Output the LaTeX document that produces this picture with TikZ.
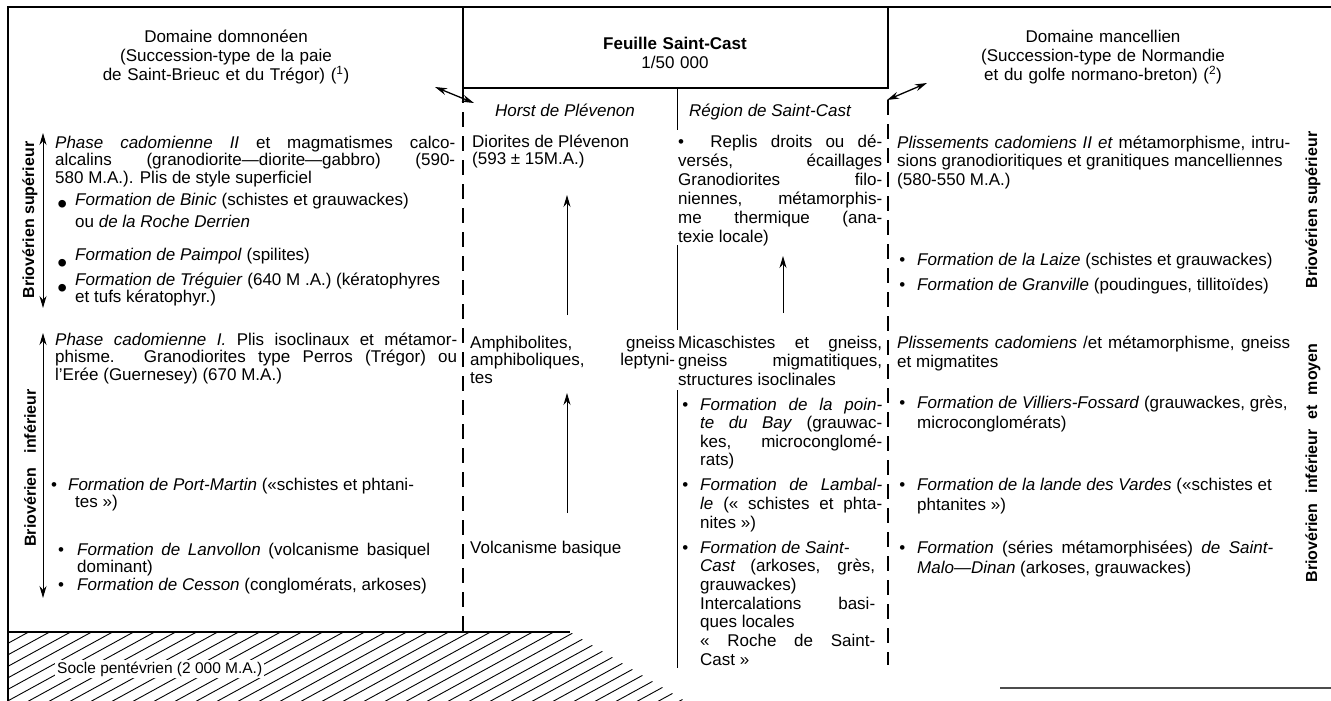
\documentclass[tikz,border=0pt]{standalone}
\usepackage{fontspec}
\setmainfont{Liberation Sans}
\usetikzlibrary{arrows.meta}

\newcommand\bodyfont{\fontsize{17}{17.5}\selectfont}
\newcommand\bigdot[1]{\smash{\raisebox{#1}{\fontsize{28}{28}\selectfont•}}}

\tikzset{
  txt/.style={anchor=base west,inner sep=0pt,text width=#1,align=justify,font=\bodyfont},
  head/.style={anchor=base,inner sep=0pt,text width=420pt,align=center,font=\fontsize{17}{19}\selectfont},
  side/.style={rotate=90,inner sep=0pt,font=\fontsize{16}{16}\selectfont\bfseries},
  limit/.style={line width=1.3pt,dash pattern=on 15pt off 9pt},
}

\begin{document}
\begin{tikzpicture}[x=1pt,y=-1pt,>={Stealth[length=12pt,width=7pt]}]
\useasboundingbox (0,0) rectangle (1331,701);

% frame and columns
\draw[line width=2.5pt] (8,701) -- (8,7) -- (1331,7);
\draw[line width=1.3pt] (463,7) -- (463,88) -- (888,88) -- (888,7);
\draw[limit] (463,88) -- (463,632);
\draw[limit] (888,100) -- (888,665);
\draw (677,88) -- (677,130);
\draw (677,245) -- (677,330);
\draw (677,390) -- (677,668);
\draw[line width=2pt,black!70] (1000,688) -- (1331,688);

% socle
\begin{scope}
\clip (8,632) -- (570,632) -- (685,701) -- (8,701) -- cycle;
\foreach \i in {-300,-279,...,700}
  \draw[line width=0.9pt] (\i,720) -- ++(230,-126);
\end{scope}
\draw[line width=1.2pt] (8,632) -- (570,632);
\node[anchor=base west,fill=white,inner sep=2pt,font=\fontsize{15.5}{15.5}\selectfont] (socle) at (55,673) {Socle pentévrien (2 000 M.A.)};

% headings
\node[head] (domn) at (226,43) {Domaine domnonéen\\(Succession-type de la paie\\de Saint-Brieuc et du Trégor) (\textsuperscript{1})};
\node[head] (manc) at (1103,43) {Domaine mancellien\\(Succession-type de Normandie\\et du golfe normano-breton) (\textsuperscript{2})};
\node[head] (sheet) at (675,50) {\textbf{Feuille Saint-Cast}\\1/50 000};
\node[anchor=base,inner sep=0pt,font=\bodyfont\itshape] (horst) at (565,117) {Horst de Plévenon};
\node[anchor=base west,inner sep=0pt,font=\bodyfont\itshape] (region) at (689,117) {Région de Saint-Cast};

% domnoneen
\node[txt=400pt] (ph2) at (55,148) {\textit{Phase cadomienne II} et magmatismes calco-\linebreak alcalins (granodiorite—diorite—gabbro) (590-\linebreak 580 M.A.). Plis de style superficiel};
\node[txt=380pt] (binic) at (75,205) {\llap{\bigdot{-8pt}\hspace{8pt}}\textit{Formation de Binic} (schistes et grauwackes)\\[4.5pt]ou \textit{de la Roche Derrien}};
\node[txt=380pt] (paim) at (75,260) {\llap{\bigdot{-12pt}\hspace{8pt}}\textit{Formation de Paimpol} (spilites)};
\node[txt=380pt] (treg) at (75,285) {\llap{\bigdot{-12pt}\hspace{8pt}}\textit{Formation de Tréguier} (640 M .A.) (kératophyres\\et tufs kératophyr.)};
\node[txt=402pt] (ph1) at (55,345) {\textit{Phase cadomienne I.} Plis isoclinaux et métamor-\linebreak phisme. Granodiorites type Perros (Trégor) ou\linebreak l'Erée (Guernesey) (670 M.A.)};
\node[txt=380pt] (port) at (51,490) {•\hspace{11pt}\textit{Formation de Port-Martin} («schistes et phtani-\\\hspace*{24pt}tes »)};
\node[txt=353pt] (lanv) at (77,555) {\llap{•\hspace{13pt}}\textit{Formation de Lanvollon} (volcanisme basiquel\linebreak dominant)};
\node[txt=353pt] (cess) at (77,590) {\llap{•\hspace{13pt}}\textit{Formation de Cesson} (conglomérats, arkoses)};

% horst
\node[txt=200pt] (dior) at (472,147) {Diorites de Plévenon\\(593 ± 15M.A.)};
\node[txt=205pt] (amph) at (470,348) {Amphibolites, gneiss\linebreak amphiboliques, leptyni-\linebreak tes};
\node[txt=200pt] (volc) at (470,553) {Volcanisme basique};

% region de Saint-Cast
\node[txt=204pt,font=\fontsize{17}{19}\selectfont] (replis) at (678,147) {•\ \ Replis droits ou dé-\linebreak versés, écaillages\linebreak Granodiorites filo-\linebreak niennes, métamorphis-\linebreak me thermique (ana-\linebreak texie locale)};
\node[txt=204pt,font=\fontsize{17}{18.5}\selectfont] (mica) at (678,348) {Micaschistes et gneiss,\linebreak gneiss migmatitiques,\linebreak structures isoclinales};
\node[txt=182pt,font=\fontsize{17}{18.5}\selectfont] (bay) at (700,410) {\llap{•\hspace{12pt}}\textit{Formation de la poin-\linebreak te du Bay} (grauwac-\linebreak kes, microconglomé-\linebreak rats)};
\node[txt=182pt,font=\fontsize{17}{19}\selectfont] (lamb) at (700,490) {\llap{•\hspace{12pt}}\textit{Formation de Lambal-\linebreak le} (« schistes et phta-\linebreak nites »)};
\node[txt=175pt,font=\fontsize{17}{18.7}\selectfont] (cast) at (700,553) {\llap{•\hspace{12pt}}\textit{Formation de Saint-}\\\textit{Cast} (arkoses, grès,\linebreak grauwackes)\\Intercalations basi-\linebreak ques locales\\« Roche de Saint-\linebreak Cast »};

% mancellien
\node[txt=393pt,font=\fontsize{17}{18.5}\selectfont] (pl2) at (897,148) {\textit{Plissements cadomiens II et} métamorphisme, intru-\linebreak sions granodioritiques et granitiques mancelliennes\\(580-550 M.A.)};
\node[txt=375pt] (laiz) at (917,265) {\llap{•\hspace{12pt}}\textit{Formation de la Laize} (schistes et grauwackes)};
\node[txt=375pt] (granv) at (917,290) {\llap{•\hspace{12pt}}\textit{Formation de Granville} (poudingues, tillitoïdes)};
\node[txt=393pt,font=\fontsize{17}{19}\selectfont] (pl1) at (897,348) {\textit{Plissements cadomiens} /et métamorphisme, gneiss\linebreak et migmatites};
\node[txt=375pt,font=\fontsize{17}{20}\selectfont] (vill) at (917,408) {\llap{•\hspace{12pt}}\textit{Formation de Villiers-Fossard} (grauwackes, grès,\\microconglomérats)};
\node[txt=375pt,font=\fontsize{17}{20}\selectfont] (vard) at (917,490) {\llap{•\hspace{12pt}}\textit{Formation de la lande des Vardes} («schistes et\\phtanites »)};
\node[txt=356pt,font=\fontsize{17}{20}\selectfont] (malo) at (917,553) {\llap{•\hspace{12pt}}\textit{Formation} (séries métamorphisées) \textit{de Saint-\linebreak Malo—Dinan} (arkoses, grauwackes)};

% side labels
\node[side] (supL) at (30,220) {Briovérien supérieur};
\node[side] (infL) at (30,468) {Briovérien\hspace{14pt}inférieur};
\node[side] (supR) at (1313,210) {Briovérien supérieur};
\node[side] (infR) at (1313,463) {Briovérien\hspace{10pt}inférieur\hspace{10pt}et\hspace{10pt}moyen};

% arrows
\coordinate (s1) at (43,133); \coordinate (s2) at (43,308);
\coordinate (i1) at (43,333); \coordinate (i2) at (43,598);
\coordinate (h1) at (567,315); \coordinate (h2) at (567,195);
\coordinate (h3) at (567,513); \coordinate (h4) at (567,393);
\coordinate (r1) at (783,313); \coordinate (r2) at (783,256);
\coordinate (tl1) at (435,87); \coordinate (tl2) at (474,103);
\coordinate (tr1) at (887,100); \coordinate (tr2) at (927,83);
\draw[<->,line width=1pt] (s1) -- (s2);
\draw[<->,line width=1pt] (i1) -- (i2);
\draw[->,line width=1pt] (h1) -- (h2);
\draw[->,line width=1pt] (h3) -- (h4);
\draw[->,line width=1pt] (r1) -- (r2);
\draw[<->,line width=1.3pt] (tl1) -- (tl2);
\draw[<->,line width=1.3pt] (tr1) -- (tr2);
\end{tikzpicture}
\end{document}
